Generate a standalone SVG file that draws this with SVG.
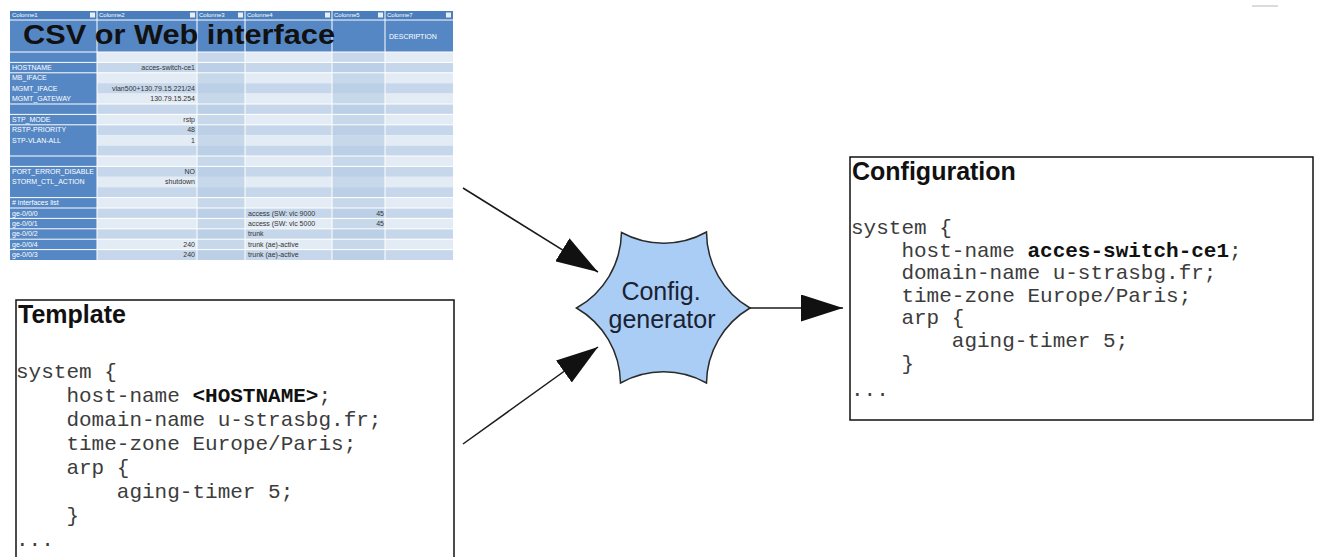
<svg xmlns="http://www.w3.org/2000/svg" width="1320" height="557" viewBox="0 0 1320 557">
<defs>
<style>
.box{fill:#fff;stroke:#111;stroke-width:1.5}
.title{font-family:"Liberation Sans",Arial,sans-serif;font-weight:bold;font-size:25px;fill:#111}
.code{font-family:"Liberation Mono","Courier New",monospace;font-size:21px;fill:#3c3c3c;white-space:pre}
.b{font-weight:bold;fill:#111}
.conn{stroke:#1a1a1a;stroke-width:1.5;fill:none}
.hd{fill:#4a7dbb}
.c1{fill:#5487c4}
.lt{fill:#e3ebf5}
.lt2{fill:#c6d7eb}
.dk{fill:#b3c8e2}
.sep{stroke:#fff;stroke-width:1}
.wt{font-family:"Liberation Sans",Arial,sans-serif;font-size:7px;fill:#fff}
.ht{font-family:"Liberation Sans",Arial,sans-serif;font-size:6px;fill:#fff}
.dt{font-family:"Liberation Sans",Arial,sans-serif;font-size:7px;fill:#333}
.star{fill:#a9cdf4;stroke:#2a2a2a;stroke-width:1.5}
.lbl{font-family:"Liberation Sans",Arial,sans-serif;font-size:25px;fill:#1a2233;text-anchor:middle}
</style>
<marker id="ah" markerUnits="userSpaceOnUse" markerWidth="42" markerHeight="27" refX="42" refY="13.5" orient="auto">
<path d="M0,0 L42,13.5 L0,27 Z" fill="#111"/>
</marker>
</defs>
<rect width="1320" height="557" fill="#fff"/>
<line x1="1252" y1="6" x2="1278" y2="6" stroke="#cfcfcf" stroke-width="1.5"/>

<g id="csv">
<rect x="10" y="11" width="443" height="9" class="hd"/>
<rect x="10" y="20" width="443" height="32" class="c1"/>
<g id="rows">
<rect x="97" y="52" width="356" height="10.4" class="lt"/>
<rect x="97" y="62.4" width="356" height="10.4" class="lt2"/>
<rect x="97" y="72.8" width="356" height="10.4" class="lt"/>
<rect x="97" y="83.2" width="356" height="10.4" class="lt2"/>
<rect x="97" y="93.6" width="356" height="10.4" class="lt"/>
<rect x="97" y="104" width="356" height="10.4" class="lt2"/>
<rect x="97" y="114.4" width="356" height="10.4" class="lt"/>
<rect x="97" y="124.8" width="356" height="10.4" class="lt2"/>
<rect x="97" y="135.2" width="356" height="10.4" class="lt"/>
<rect x="97" y="145.6" width="356" height="10.4" class="lt2"/>
<rect x="97" y="156" width="356" height="10.4" class="lt"/>
<rect x="97" y="166.4" width="356" height="10.4" class="lt2"/>
<rect x="97" y="176.8" width="356" height="10.4" class="lt"/>
<rect x="97" y="187.2" width="356" height="10.4" class="lt2"/>
<rect x="97" y="197.6" width="356" height="10.4" class="lt"/>
<rect x="97" y="208" width="356" height="10.4" class="lt2"/>
<rect x="97" y="218.4" width="356" height="10.4" class="lt"/>
<rect x="97" y="228.8" width="356" height="10.4" class="lt2"/>
<rect x="97" y="239.2" width="356" height="10.4" class="lt"/>
<rect x="97" y="249.6" width="356" height="10.4" class="lt2"/>
<rect x="197" y="52" width="48" height="208" class="dk" opacity="0.55"/>
<rect x="332" y="52" width="53" height="208" class="dk" opacity="0.55"/>
<rect x="10" y="52" width="87" height="208" class="c1"/>
</g>
<g id="grid">
<line x1="97" y1="11" x2="97" y2="260" class="sep"/>
<line x1="197" y1="11" x2="197" y2="260" class="sep"/>
<line x1="245" y1="11" x2="245" y2="260" class="sep"/>
<line x1="332" y1="11" x2="332" y2="260" class="sep"/>
<line x1="385" y1="11" x2="385" y2="260" class="sep"/>
<line x1="10" y1="20" x2="453" y2="20" class="sep"/>
<line x1="10" y1="52" x2="453" y2="52" class="sep"/>
<line x1="10" y1="62.4" x2="453" y2="62.4" class="sep"/>
<line x1="10" y1="72.8" x2="453" y2="72.8" class="sep"/>
<line x1="10" y1="104" x2="453" y2="104" class="sep"/>
<line x1="10" y1="114.4" x2="453" y2="114.4" class="sep"/>
<line x1="10" y1="124.8" x2="453" y2="124.8" class="sep"/>
<line x1="10" y1="156" x2="453" y2="156" class="sep"/>
<line x1="10" y1="166.4" x2="453" y2="166.4" class="sep"/>
<line x1="10" y1="197.6" x2="453" y2="197.6" class="sep"/>
<line x1="10" y1="208" x2="453" y2="208" class="sep"/>
<line x1="10" y1="218.4" x2="453" y2="218.4" class="sep"/>
<line x1="10" y1="228.8" x2="453" y2="228.8" class="sep"/>
<line x1="10" y1="239.2" x2="453" y2="239.2" class="sep"/>
<line x1="10" y1="249.6" x2="453" y2="249.6" class="sep"/>
</g>
<g id="hdrtext">
<text x="12" y="16.8" class="ht">Colonne1</text>
<text x="99" y="16.8" class="ht">Colonne2</text>
<text x="199" y="16.8" class="ht">Colonne3</text>
<text x="247" y="16.8" class="ht">Colonne4</text>
<text x="334" y="16.8" class="ht">Colonne5</text>
<text x="387" y="16.8" class="ht">Colonne7</text>
<rect x="90" y="12.5" width="5" height="5" fill="#e8eef6"/>
<rect x="190" y="12.5" width="5" height="5" fill="#e8eef6"/>
<rect x="238" y="12.5" width="5" height="5" fill="#e8eef6"/>
<rect x="325" y="12.5" width="5" height="5" fill="#e8eef6"/>
<rect x="378" y="12.5" width="5" height="5" fill="#e8eef6"/>
<rect x="446" y="12.5" width="5" height="5" fill="#e8eef6"/>
<text x="389" y="39" class="wt">DESCRIPTION</text>
</g>
<g id="celltext">
<text x="12" y="70" class="wt">HOSTNAME</text>
<text x="12" y="80.4" class="wt">MB_IFACE</text>
<text x="12" y="90.8" class="wt">MGMT_IFACE</text>
<text x="12" y="101.2" class="wt">MGMT_GATEWAY</text>
<text x="12" y="122" class="wt">STP_MODE</text>
<text x="12" y="132.4" class="wt">RSTP-PRIORITY</text>
<text x="12" y="142.8" class="wt">STP-VLAN-ALL</text>
<text x="12" y="174" class="wt">PORT_ERROR_DISABLE</text>
<text x="12" y="184.4" class="wt">STORM_CTL_ACTION</text>
<text x="12" y="205.2" class="wt"># interfaces list</text>
<text x="12" y="215.6" class="wt">ge-0/0/0</text>
<text x="12" y="226" class="wt">ge-0/0/1</text>
<text x="12" y="236.4" class="wt">ge-0/0/2</text>
<text x="12" y="246.8" class="wt">ge-0/0/4</text>
<text x="12" y="257.2" class="wt">ge-0/0/3</text>
<g text-anchor="end">
<text x="195" y="70" class="dt">acces-switch-ce1</text>
<text x="195" y="90.8" class="dt">vlan500+130.79.15.221/24</text>
<text x="195" y="101.2" class="dt">130.79.15.254</text>
<text x="195" y="122" class="dt">rstp</text>
<text x="195" y="132.4" class="dt">48</text>
<text x="195" y="142.8" class="dt">1</text>
<text x="195" y="174" class="dt">NO</text>
<text x="195" y="184.4" class="dt">shutdown</text>
<text x="195" y="246.8" class="dt">240</text>
<text x="195" y="257.2" class="dt">240</text>
<text x="384" y="215.6" class="dt">45</text>
<text x="384" y="226" class="dt">45</text>
</g>
<text x="248" y="215.6" class="dt">access (SW: vlc 9000</text>
<text x="248" y="226" class="dt">access (SW: vlc 5000</text>
<text x="248" y="236.4" class="dt">trunk</text>
<text x="248" y="246.8" class="dt">trunk (ae)-active</text>
<text x="248" y="257.2" class="dt">trunk (ae)-active</text>
</g>
<text x="23" y="43.5" font-family="'Liberation Sans',Arial,sans-serif" font-weight="bold" font-size="28" fill="#111" textLength="312" lengthAdjust="spacingAndGlyphs">CSV or Web interface</text>
</g>

<g id="template">
<rect x="16" y="300" width="438" height="280" class="box"/>
<text x="18" y="323" class="title">Template</text>
<text x="16" y="378" class="code">system {</text>
<text x="16" y="402" class="code">    host-name <tspan class="b">&lt;HOSTNAME&gt;</tspan>;</text>
<text x="16" y="426" class="code">    domain-name u-strasbg.fr;</text>
<text x="16" y="450" class="code">    time-zone Europe/Paris;</text>
<text x="16" y="474" class="code">    arp {</text>
<text x="16" y="498" class="code">        aging-timer 5;</text>
<text x="16" y="522" class="code">    }</text>
<text x="16" y="546" class="code">...</text>
</g>

<g id="generator">
<path class="star" d="M576.5,308 A88,88 0 0 0 621.5,232.5 A88,88 0 0 0 706.5,232 A88,88 0 0 0 750,308 A88,88 0 0 0 706.5,383 A88,88 0 0 0 620.5,383 A88,88 0 0 0 576.5,308 Z"/>
<text x="661" y="300" class="lbl">Config.</text>
<text x="662" y="328" class="lbl">generator</text>
</g>

<g id="configuration">
<rect x="850" y="157" width="463" height="263" class="box"/>
<text x="852" y="180" class="title">Configuration</text>
<text x="851" y="234" class="code">system {</text>
<text x="851" y="256.5" class="code">    host-name <tspan class="b">acces-switch-ce1</tspan>;</text>
<text x="851" y="279" class="code">    domain-name u-strasbg.fr;</text>
<text x="851" y="301.5" class="code">    time-zone Europe/Paris;</text>
<text x="851" y="324" class="code">    arp {</text>
<text x="851" y="346.5" class="code">        aging-timer 5;</text>
<text x="851" y="370" class="code">    }</text>
<text x="851" y="396" class="code">...</text>
</g>

<g id="connectors">
<line x1="463" y1="188" x2="598" y2="272" class="conn" marker-end="url(#ah)"/>
<line x1="463" y1="444" x2="598" y2="347" class="conn" marker-end="url(#ah)"/>
<line x1="750" y1="308" x2="843" y2="308" class="conn" marker-end="url(#ah)"/>
</g>
</svg>
